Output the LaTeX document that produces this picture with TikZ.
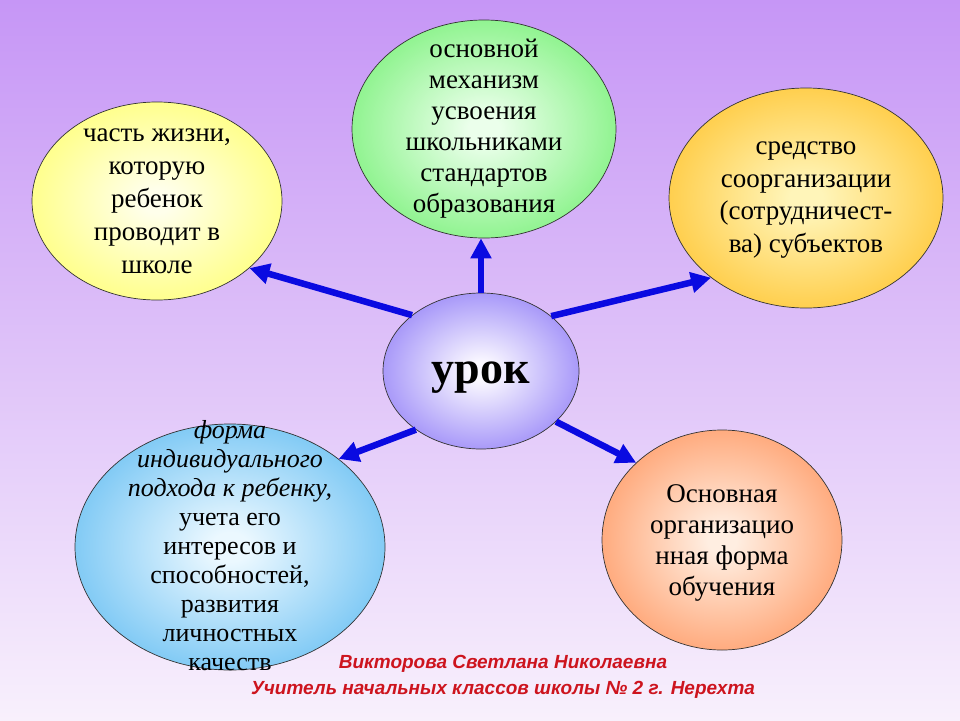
\documentclass[tikz,border=0pt]{standalone}
\usepackage{fontspec}
\setmainfont{Liberation Serif}
\newfontfamily\signfont{Liberation Sans}
\usetikzlibrary{arrows.meta,shapes.geometric}

\definecolor{fondhaut}{RGB}{198,150,246}
\definecolor{fondmil}{RGB}{222,196,248}
\definecolor{fondbas}{RGB}{248,240,252}
\definecolor{bleufl}{RGB}{10,10,225}
\definecolor{signrouge}{RGB}{205,20,30}

% degrade radial des ovales (couleurs ovin / ovout)
\pgfdeclareradialshading[ovin,ovout]{ovale}{\pgfpoint{0bp}{0bp}}{color(0bp)=(ovin); color(3bp)=(ovin); color(36bp)=(ovout); color(50bp)=(ovout)}

\begin{document}
\begin{tikzpicture}[x=1pt,y=-1pt]

\tikzset{ovale/.style 2 args={ellipse,draw=black!80,line width=0.7pt,inner sep=0pt,
  /utils/exec={\colorlet{ovin}{#1}\colorlet{ovout}{#2}},shading=ovale}, %ovale colore
  texte/.style={align=center,inner sep=0pt},
  fleche/.style={line width=6.5pt,draw=bleufl,-{Triangle[length=20pt,width=20pt]}}}

%fond
\useasboundingbox (0,0) rectangle (960,720);
\shade[top color=fondhaut,middle color=fondmil,bottom color=fondbas] (0,0) rectangle (960,720);

%----------ovales----------
\node[ovale={rgb,255:red,250;green,248;blue,255}{rgb,255:red,128;green,106;blue,246},minimum width=196pt,minimum height=156pt] (urok) at (481,371) {};
\node[ovale={rgb,255:red,255;green,255;blue,235}{rgb,255:red,255;green,255;blue,95},minimum width=250pt,minimum height=198pt] (vie) at (157,201) {};
\node[ovale={rgb,255:red,235;green,255;blue,235}{rgb,255:red,100;green,238;blue,100},minimum width=264pt,minimum height=218pt] (meca) at (484,129) {};
\node[ovale={rgb,255:red,255;green,245;blue,185}{rgb,255:red,255;green,188;blue,25},minimum width=274pt,minimum height=220pt] (coop) at (806,198) {};
\node[ovale={rgb,255:red,235;green,248;blue,255}{rgb,255:red,78;green,180;blue,240},minimum width=310pt,minimum height=246pt] (indiv) at (230,547) {};
\node[ovale={rgb,255:red,255;green,238;blue,225}{rgb,255:red,255;green,138;blue,78},minimum width=240pt,minimum height=220pt] (forme) at (722,540) {};

%----------textes----------
\node[texte,font=\bfseries\fontsize{46}{50}\selectfont] (turok) at (481,378) {урок};
\node[texte,font=\fontsize{27}{33}\selectfont] (tvie) at (157,201) {часть жизни,\\которую\\ребенок\\проводит в\\школе};
\node[texte,font=\fontsize{27}{31}\selectfont] (tmeca) at (484,129) {основной\\механизм\\усвоения\\школьниками\\стандартов\\образования};
\node[texte,font=\fontsize{27}{32.5}\selectfont] (tcoop) at (806,200) {средство\\соорганизации\\(сотрудничест-\\ва) субъектов};
\node[texte,font=\fontsize{26}{29}\selectfont] (tindiv) at (230,546) {\textit{форма}\\\textit{индивидуального}\\\textit{подхода к ребенку,}\\учета его\\интересов и\\способностей,\\развития\\личностных\\качеств};
\node[texte,font=\fontsize{27}{31}\selectfont] (tforme) at (722,543) {Основная\\организацио\\нная форма\\обучения};

%----------fleches----------
\draw[fleche] (urok.north) -- (urok.north |- meca.south);
\draw[fleche] (urok.141) -- (vie.-36);
\draw[fleche] (urok.38) -- (coop.220);
\draw[fleche] (urok.222) -- (indiv.39);
\draw[fleche] (urok.-34) -- (forme.138);

%signature
\node[texte,text=signrouge,font=\signfont\bfseries\itshape\fontsize{19}{26}\selectfont] (sign) at (503,677) {Викторова Светлана Николаевна\\Учитель начальных классов школы № 2 г. Нерехта};

\end{tikzpicture}
\end{document}
